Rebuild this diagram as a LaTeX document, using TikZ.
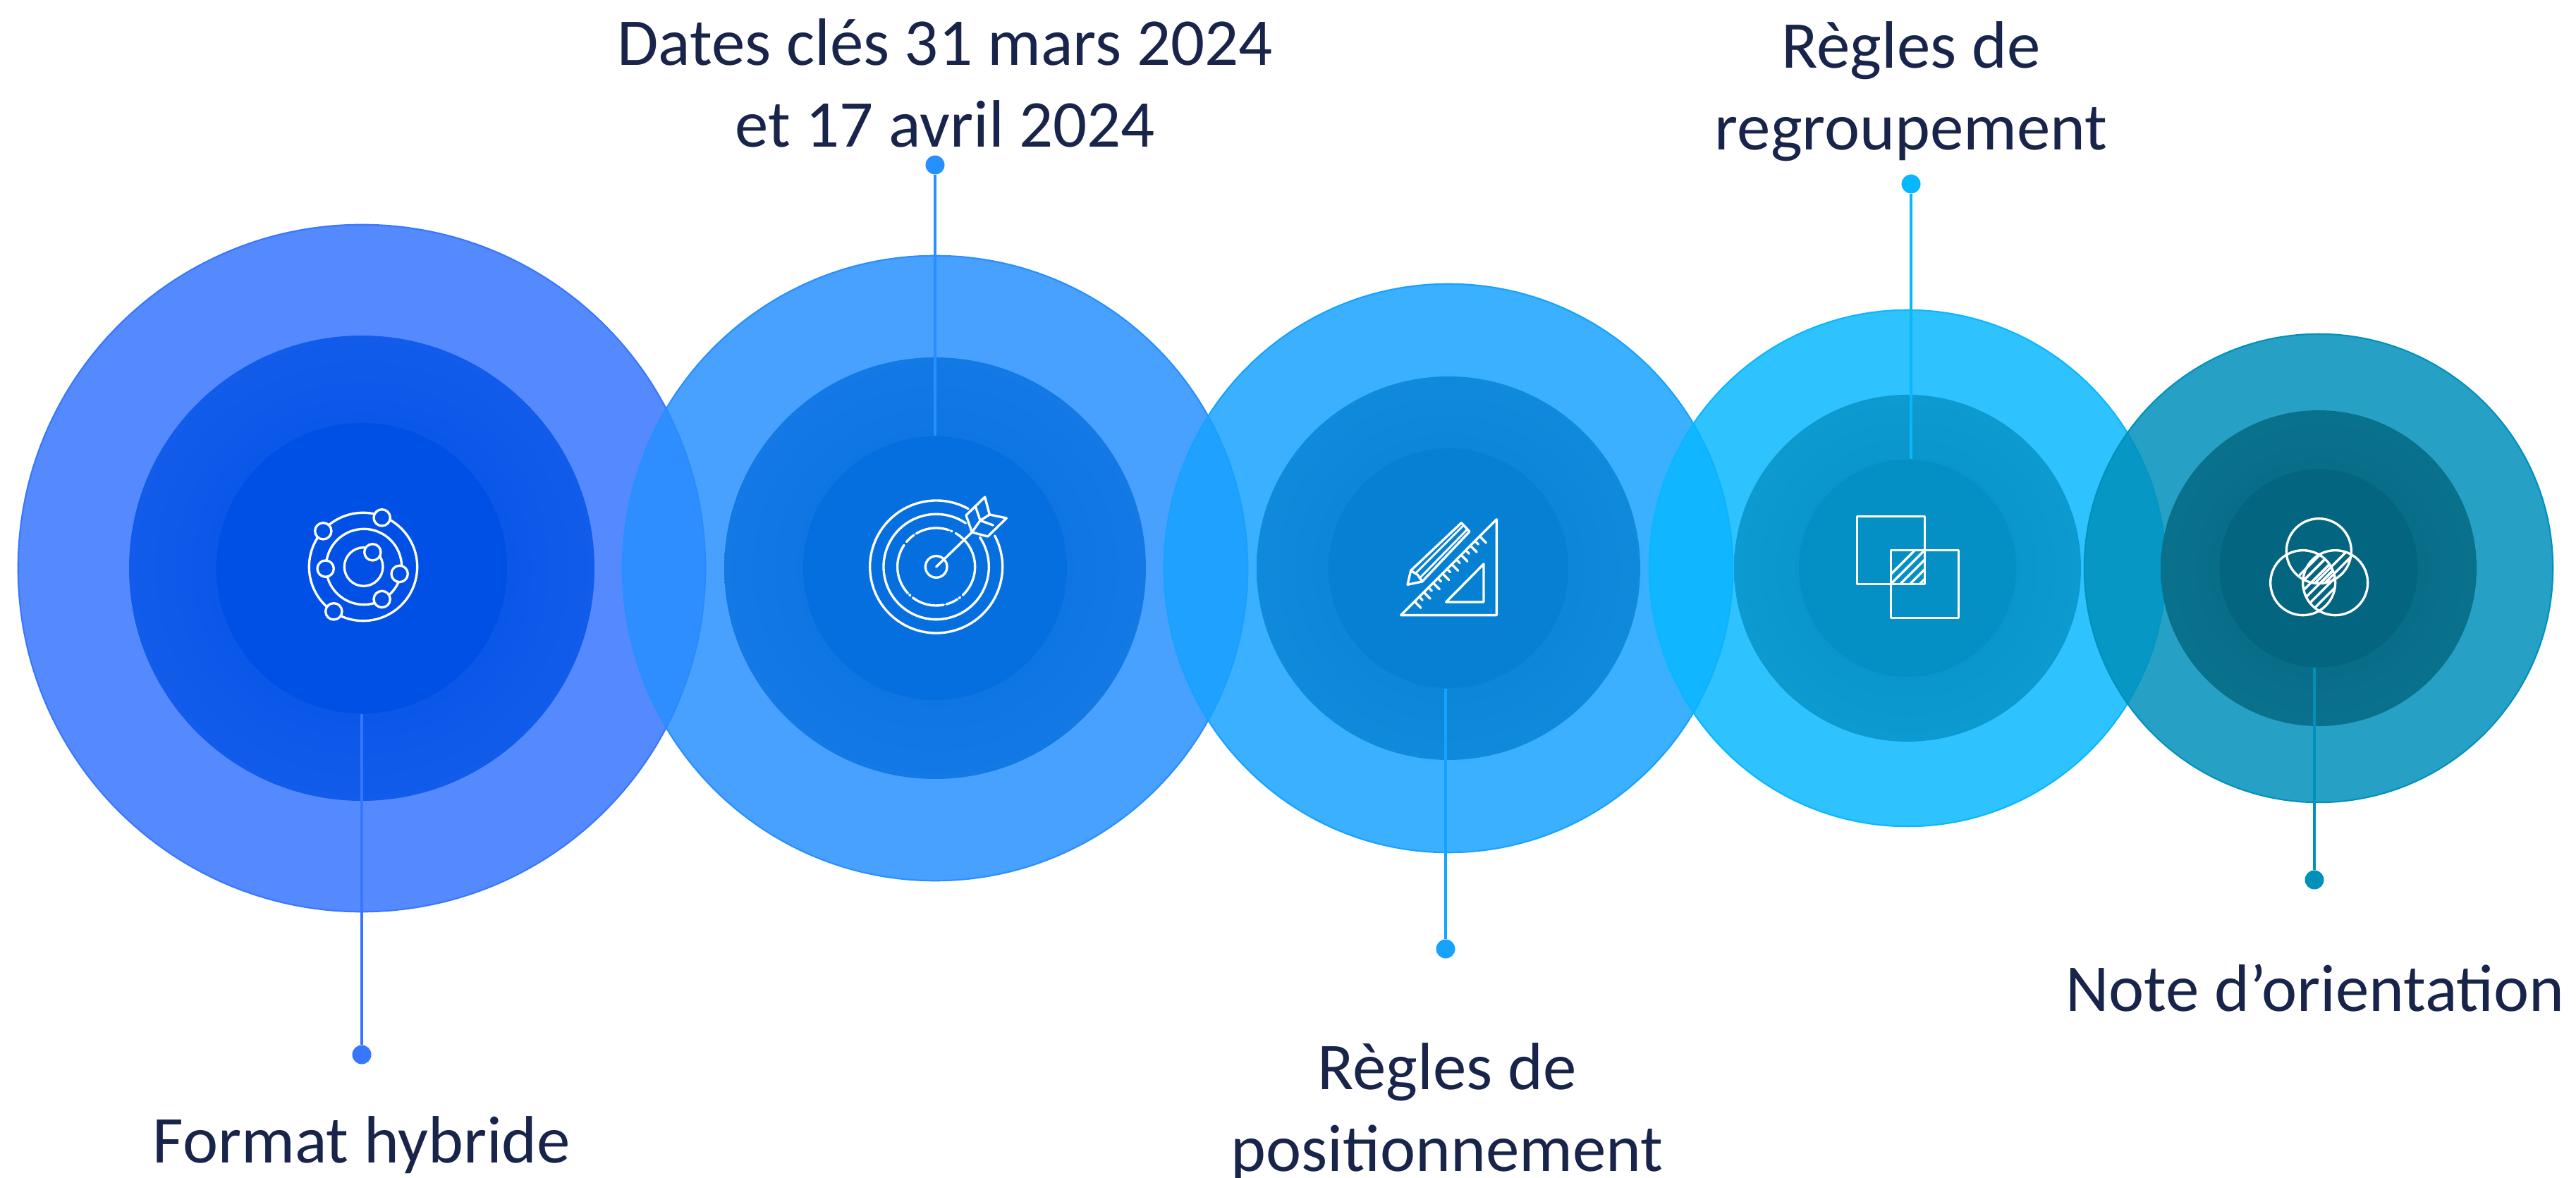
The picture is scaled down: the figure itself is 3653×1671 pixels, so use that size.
\documentclass[tikz,border=0pt]{standalone}
\usepackage{fontspec}
\setmainfont{Carlito}
\usetikzlibrary{positioning}

\definecolor{labelink}{HTML}{18244A}
\definecolor{fillone}{HTML}{3776FF}
\definecolor{filltwo}{HTML}{288FFF}
\definecolor{fillthree}{HTML}{17A2FF}
\definecolor{fillfour}{HTML}{09B7FF}
\definecolor{fillfive}{HTML}{0091BB}
\definecolor{coreone}{HTML}{0050E5}
\definecolor{coretwo}{HTML}{066FDF}
\definecolor{corethree}{HTML}{0580D2}
\definecolor{corefour}{HTML}{0490C4}
\definecolor{corefive}{HTML}{03657F}
\colorlet{washone}{fillone!85!white}
\colorlet{washtwo}{filltwo!85!white}
\colorlet{washthree}{fillthree!85!white}
\colorlet{washfour}{fillfour!85!white}
\colorlet{washfive}{fillfive!85!white}

\newcommand{\glowdecl}[3]{\pgfdeclareradialshading{#1}{\pgfpointorigin}{color(0bp)=(#2); color(31bp)=(#2!75!#3); color(36bp)=(#2!50!#3); color(42bp)=(#2!20!#3); color(50bp)=(#3)}}
\glowdecl{glowone}{coreone}{washone}
\glowdecl{glowtwo}{coretwo}{washtwo}
\glowdecl{glowthree}{corethree}{washthree}
\glowdecl{glowfour}{corefour}{washfour}
\glowdecl{glowfive}{corefive}{washfive}

\tikzset{
  disc/.style={circle,inner sep=0pt,minimum size=#1,fill opacity=.85,line width=.6pt},
  core/.style={circle,inner sep=0pt,minimum size=#1},
  tip/.style={circle,inner sep=0pt,minimum size=.27cm},
  stem/.style={line width=1pt},
  caption/.style={text=labelink,font=\fontsize{27}{33}\selectfont,align=center},
  icon/.style={draw=white,line width=.95pt,line cap=round,line join=round},
  thinicon/.style={draw=white,line width=.8pt,line cap=round,line join=round}
}

\begin{document}
\begin{tikzpicture}[x=.01cm,y=.01cm]
\useasboundingbox (0,0) rectangle (3653,-1671);

\node[disc=9.74cm,fill=fillone,draw=fillone] (discone) at (513,-806) {};
\node[disc=8.86cm,fill=filltwo,draw=filltwo] (disctwo) at (1326,-806) {};
\node[disc=8.06cm,fill=fillthree,draw=fillthree] (discthree) at (2054,-806) {};
\node[disc=7.32cm,fill=fillfour,draw=fillfour] (discfour) at (2705,-806) {};
\node[disc=6.64cm,fill=fillfive,draw=fillfive] (discfive) at (3288,-806) {};

\shade[shading=glowone] (discone) circle (330);
\shade[shading=glowtwo] (disctwo) circle (299);
\shade[shading=glowthree] (discthree) circle (272);
\shade[shading=glowfour] (discfour) circle (246);
\shade[shading=glowfive] (discfive) circle (224);

\node[core=4.12cm,fill=coreone] (hubone) at (discone) {};
\node[core=3.74cm,fill=coretwo] (hubtwo) at (disctwo) {};
\node[core=3.40cm,fill=corethree] (hubthree) at (discthree) {};
\node[core=3.08cm,fill=corefour] (hubfour) at (discfour) {};
\node[core=2.81cm,fill=corefive] (hubfive) at (discfive) {};

\node[tip,fill=fillone] (tipone) at (513,-1496) {};
\node[tip,fill=filltwo] (tiptwo) at (1326,-234) {};
\node[tip,fill=fillthree] (tipthree) at (2050,-1346) {};
\node[tip,fill=fillfour] (tipfour) at (2710,-261) {};
\node[tip,fill=fillfive] (tipfive) at (3282,-1248) {};

\draw[stem,fillone] (tipone) -- (tipone |- hubone.south);
\draw[stem,filltwo] (tiptwo) -- (tiptwo |- hubtwo.north);
\draw[stem,fillthree] (tipthree) -- (tipthree |- hubthree.south);
\draw[stem,fillfour] (tipfour) -- (tipfour |- hubfour.north);
\draw[stem,fillfive] (tipfive) -- (tipfive |- hubfive.south);

\node[caption,anchor=base] (capone) at (513,-1650) {Format hybride};
\node[caption] (captwo) at (1340,-118) {Dates clés 31 mars 2024\\et 17 avril 2024};
\node[caption] (capthree) at (2052,-1578) {Règles de\\positionnement};
\node[caption] (capfour) at (2710,-130) {Règles de\\regroupement};
\node[caption,anchor=base] (capfive) at (3283,-1435) {Note d’orientation};

\begin{scope}[shift={(380,-660)},scale=1/3]
\draw[icon] (405,-432) circle (230);
\draw[icon] (408,-432) circle (161);
\draw[icon] (407,-432) circle (82);
\foreach \px/\py in {235/280,485/223,445/370,245/440,560/462,485/570,280/622}
  \filldraw[icon,fill=coreone] (\px,-\py) circle (35);
\end{scope}

\begin{scope}[shift={(1190,-660)},scale=1/3]
\draw[icon] (413,-432) ++(61:282) arc (61:388:282);
\draw[icon] (413,-432) ++(56:224) arc (56:394:224);
\foreach \arcfrom/\arcto in {71/121,125/140,148/205,-155/-137,-127/-79,-75/-57,-47/44,44/60,66/68,146/148,-134/-132,-54/-52}
  \draw[icon] (413,-432) ++(\arcfrom:165) arc (\arcfrom:\arcto:165);
\draw[icon] (413,-432) circle (46);
\draw[icon] (413,-432) -- (565,-285);
\draw[icon] (565,-285) -- (540,-213) -- (620,-135) -- (640,-210) -- (712,-225) -- (632,-303) -- cycle;
\draw[icon] (580,-175) -- (600,-235) -- (565,-285);
\draw[icon] (640,-210) -- (600,-235) -- (655,-255);
\end{scope}

\begin{scope}[shift={(1920,-680)},scale=1/3]
\draw[icon] (200,-578) -- (607,-170) -- (607,-578) -- cycle;
\draw[icon] (392,-522) -- (552,-360) -- (552,-522) -- cycle;
\foreach \n in {0,2,...,14}
  \draw[icon] (258+19.8*\n,-520+19.8*\n) -- ++(27,-27);
\foreach \n in {1,3,...,13}
  \draw[icon] (258+19.8*\n,-520+19.8*\n) -- ++(14,-14);
\draw[icon] (457,-185) -- (492,-222) -- (290,-435) -- (228,-448) -- (242,-388) -- cycle;
\draw[thinicon] (462,-200) -- (262,-400) (480,-215) -- (280,-420);
\draw[icon] (242,-388) -- (272,-407) -- (290,-435);
\end{scope}

\begin{scope}[shift={(2590,-680)},scale=1/3]
\draw[icon] (130,-157) rectangle (418,-445);
\draw[icon] (274,-301) rectangle (562,-589);
\begin{scope}
\clip (274,-301) rectangle (418,-445);
\foreach \n in {0,...,7}
  \draw[icon] (274+41*\n-41,-445) -- ++(180,180);
\end{scope}
\end{scope}

\begin{scope}[shift={(3170,-680)},scale=1/3]
\draw[icon] (355,-305) circle (138);
\draw[icon] (287,-440) circle (138);
\draw[icon] (425,-440) circle (138);
\begin{scope}
\clip (355,-305) circle (138);
\clip (287,-440) circle (138);
\foreach \n in {0,...,8}
  \draw[icon] (120+41*\n,-560) -- ++(300,300);
\end{scope}
\begin{scope}
\clip (355,-305) circle (138);
\clip (425,-440) circle (138);
\foreach \n in {0,...,8}
  \draw[icon] (220+41*\n,-560) -- ++(300,300);
\end{scope}
\begin{scope}
\clip (287,-440) circle (138);
\clip (425,-440) circle (138);
\foreach \n in {0,...,8}
  \draw[icon] (120+41*\n,-600) -- ++(300,300);
\end{scope}
\end{scope}
\end{tikzpicture}
\end{document}
